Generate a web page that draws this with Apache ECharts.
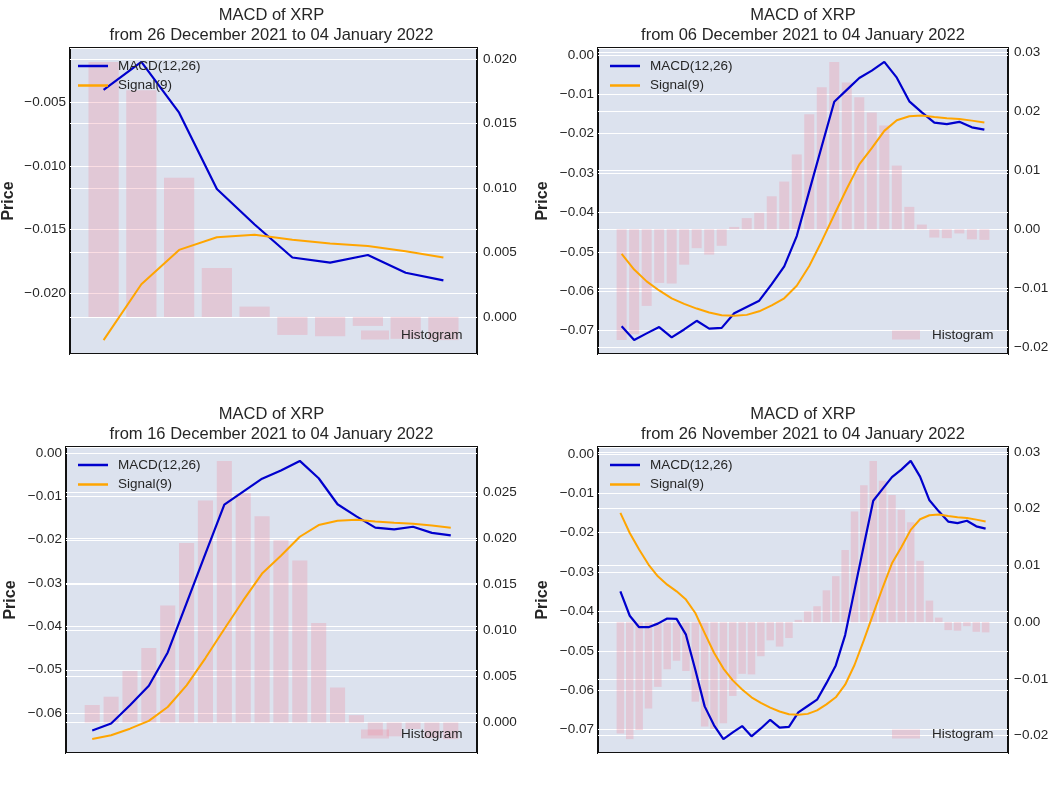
<!DOCTYPE html>
<html>
<head>
<meta charset="utf-8">
<script src="https://cdn.jsdelivr.net/npm/echarts@6/dist/echarts.min.js"></script>
<style>
  html, body { margin: 0; padding: 0; background: #fff; }
  #main { width: 1063px; height: 797px; }
</style>
</head>
<body>
<div id="main"></div>
<script>
// daily values, 26 November 2021 .. 04 January 2022 (40 days)
var macd = [
  -0.0349, -0.0411, -0.0440, -0.0440, -0.0431, -0.0418, -0.0419, -0.0459, -0.0548, -0.0641,
  -0.0689, -0.0724, -0.0707, -0.0691, -0.0717, -0.0697, -0.0675, -0.0695, -0.0693, -0.0656,
  -0.0640, -0.0624, -0.0582, -0.0537, -0.0460, -0.0346, -0.0232, -0.0119, -0.0089, -0.0059,
  -0.0040, -0.0018, -0.0058, -0.0118, -0.0146, -0.0172, -0.0176, -0.0170, -0.0184, -0.0190
];
var signal = [
  -0.0150, -0.0201, -0.0243, -0.0281, -0.0311, -0.0332, -0.0349, -0.0370, -0.0404, -0.0455,
  -0.0505, -0.0545, -0.0575, -0.0598, -0.0618, -0.0632, -0.0644, -0.0654, -0.0661, -0.0662,
  -0.0660, -0.0651, -0.0636, -0.0618, -0.0586, -0.0536, -0.0473, -0.0406, -0.0340, -0.0278,
  -0.0237, -0.0193, -0.0166, -0.0156, -0.0154, -0.0158, -0.0161, -0.0163, -0.0167, -0.0172
];
var hist = [
  -0.0196, -0.0206, -0.0190, -0.0152, -0.0114, -0.0083, -0.0068, -0.0086, -0.0140, -0.0184,
  -0.0188, -0.0178, -0.0130, -0.0091, -0.0092, -0.0060, -0.0032, -0.0043, -0.0028, 0.0004,
  0.0019, 0.0028, 0.0056, 0.0081, 0.0127, 0.0195, 0.0241, 0.0284, 0.0249, 0.0224,
  0.0198, 0.0176, 0.0108, 0.0038, 0.0008, -0.0014, -0.0015, -0.0007, -0.0017, -0.0018
];

// one entry per panel: top-left, top-right, bottom-left, bottom-right
var panelStart = [30, 10, 20, 0];
var panelFrom = ['26 December 2021', '06 December 2021', '16 December 2021', '26 November 2021'];
var panelTo = '04 January 2022';
var leftStep = [0.005, 0.01, 0.01, 0.01];
var rightStep = [0.005, 0.01, 0.005, 0.01];
var leftDecimals = [3, 2, 2, 2];
var rightDecimals = [3, 2, 3, 2];

var FONT = "'Liberation Sans', Arial, sans-serif";
var TEXT = '#262626';
var grids = [
  { left: 66, top: 48, width: 411, height: 306 },
  { left: 598, top: 48, width: 410, height: 306 },
  { left: 66, top: 447, width: 411, height: 306 },
  { left: 598, top: 447, width: 410, height: 306 }
];
var nameGaps = [53, 47, 47, 47];

function padRange(vals) {
  var lo = Math.min.apply(null, vals), hi = Math.max.apply(null, vals);
  var m = (hi - lo) * 0.05;
  return [lo - m, hi + m];
}
function fmt(d) {
  return function (v) {
    if (Math.abs(v) < 1e-12) v = 0;
    return v.toFixed(d).replace('-', '\u2212');
  };
}

var chart = echarts.init(document.getElementById('main'));
var option = {
  backgroundColor: '#ffffff',
  animation: false,
  grid: [], xAxis: [], yAxis: [], series: [], legend: [], graphic: []
};

grids.forEach(function (g, k) {
  var s = panelStart[k];
  var m = macd.slice(s), sg = signal.slice(s), h = hist.slice(s);
  var n = m.length;
  var xr = padRange([-0.4, n - 1 + 0.4]);
  var lr = padRange(m.concat(sg));
  var rr = padRange(h.concat([0]));

  option.grid.push({
    left: g.left, top: g.top, width: g.width, height: g.height,
    show: true, backgroundColor: '#dce2ee', borderColor: '#111', borderWidth: 2
  });
  option.xAxis.push({
    type: 'value', gridIndex: k, min: xr[0], max: xr[1], show: false
  });
  [0, 1].forEach(function (side) {
    var step = side ? rightStep[k] : leftStep[k];
    var r = side ? rr : lr;
    var ax = {
      type: 'value', gridIndex: k, position: side ? 'right' : 'left',
      min: r[0], max: r[1], minInterval: step, maxInterval: step,
      axisLine: { show: false }, axisTick: { show: false },
      axisLabel: {
        showMinLabel: false, showMaxLabel: false, margin: side ? 6 : 4,
        color: TEXT, fontSize: 13.5, fontFamily: FONT,
        formatter: fmt(side ? rightDecimals[k] : leftDecimals[k])
      },
      splitLine: { show: true, lineStyle: { color: '#ffffff', width: 1.2 } }
    };
    if (!side) {
      ax.name = 'Price';
      ax.nameLocation = 'middle';
      ax.nameGap = nameGaps[k];
      ax.nameTextStyle = { fontSize: 16, fontWeight: 'bold', color: TEXT, fontFamily: FONT };
    }
    option.yAxis.push(ax);
  });

  var idx = m.map(function (v, i) { return i; });
  option.series.push({
    name: 'Histogram', type: 'bar', xAxisIndex: k, yAxisIndex: 2 * k + 1,
    barWidth: '80%', z: 2,
    itemStyle: { color: 'rgba(240,128,150,0.27)' },
    data: idx.map(function (i) { return [i, h[i]]; })
  });
  option.series.push({
    name: 'MACD(12,26)', type: 'line', xAxisIndex: k, yAxisIndex: 2 * k,
    symbol: 'none', z: 3,
    itemStyle: { color: '#0000cd' }, lineStyle: { color: '#0000cd', width: 2.2 },
    data: idx.map(function (i) { return [i, m[i]]; })
  });
  option.series.push({
    name: 'Signal(9)', type: 'line', xAxisIndex: k, yAxisIndex: 2 * k,
    symbol: 'none', z: 3,
    itemStyle: { color: '#ffa500' }, lineStyle: { color: '#ffa500', width: 2 },
    data: idx.map(function (i) { return [i, sg[i]]; })
  });

  option.legend.push({
    data: ['MACD(12,26)', 'Signal(9)'], orient: 'vertical', align: 'left',
    left: g.left + 12, top: g.top + 10, padding: 0,
    icon: 'rect', itemWidth: 30, itemHeight: 2.5, itemGap: 3.5, selectedMode: false,
    textStyle: { fontSize: 13.5, color: TEXT, fontFamily: FONT, lineHeight: 16, padding: [0, 0, 0, 5] }
  });
  option.legend.push({
    data: ['Histogram'], orient: 'vertical', align: 'left',
    left: g.left + g.width - 116, top: g.top + 279, padding: 0,
    icon: 'rect', itemWidth: 28, itemHeight: 9, selectedMode: false,
    textStyle: { fontSize: 13.5, color: TEXT, fontFamily: FONT, lineHeight: 16, padding: [0, 0, 0, 7] }
  });

  option.graphic.push({
    type: 'text', x: g.left + g.width / 2, y: g.top - 42,
    style: {
      text: 'MACD of XRP\nfrom ' + panelFrom[k] + ' to ' + panelTo,
      align: 'center', verticalAlign: 'top', fill: TEXT,
      fontSize: 16.5, fontFamily: FONT, lineHeight: 19.5
    }
  });
});

chart.setOption(option);
</script>
</body>
</html>
